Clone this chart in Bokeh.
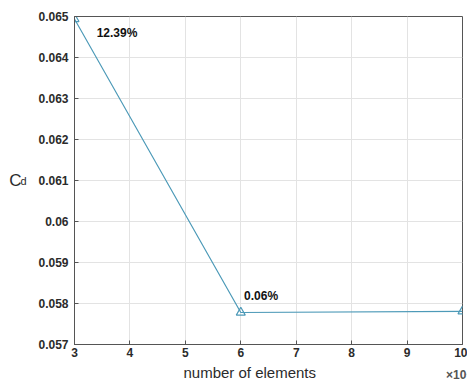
from bokeh.plotting import figure
from bokeh.models import FixedTicker, LinearAxis, Range1d
from bokeh.embed import file_html
from bokeh.resources import INLINE

# Mesh convergence study: drag coefficient vs. mesh size
elements = [30000, 60000, 100000]
cd_values = [0.06494, 0.05778, 0.05781]
change_labels = ["12.39%", "0.06%"]

x_ticks = [30000, 40000, 50000, 60000, 70000, 80000, 90000, 100000]
x_tick_labels = ["3", "4", "5", "6", "7", "8", "9", "10"]
y_ticks = [0.057, 0.058, 0.059, 0.060, 0.061, 0.062, 0.063, 0.064, 0.065]
y_tick_labels = ["0.057", "0.058", "0.059", "0.06", "0.061", "0.062", "0.063", "0.064", "0.065"]

line_color = "#4d9ab8"
text_color = "#2b2b2b"
font = "Liberation Sans"
NBSP = "\u00a0"


def set_opt(obj, **props):
    # properties that only newer Bokeh releases know are skipped quietly
    for k, v in props.items():
        try:
            setattr(obj, k, v)
        except (AttributeError, ValueError):
            pass


p = figure(width=467, height=385, output_backend="svg", toolbar_location=None,
           x_range=Range1d(30000, 100000), y_range=Range1d(0.057, 0.065),
           min_border_left=74, min_border_right=5, min_border_top=16, min_border_bottom=41)

p.line(elements, cd_values, line_color=line_color, line_width=1.2)
p.scatter(elements, cd_values, marker="triangle", size=9, fill_color=None,
          line_color=line_color, line_width=1.2)

# main axes
for ax in (p.xaxis[0], p.yaxis[0]):
    ax.major_tick_in = 4
    ax.major_tick_out = 0
    ax.minor_tick_line_color = None
    ax.axis_line_color = "#555555"
    ax.major_tick_line_color = "#555555"
    ax.major_label_text_font = font
    ax.major_label_text_font_style = "bold"
    ax.major_label_text_font_size = "12px"
    ax.major_label_text_color = text_color

p.xaxis.ticker = FixedTicker(ticks=x_ticks)
p.xaxis.major_label_overrides = dict(zip(x_ticks, x_tick_labels))
p.xaxis.major_label_standoff = 3
p.xaxis.axis_label = "number of elements" + NBSP * 9
p.xaxis.axis_label_text_font = font
p.xaxis.axis_label_text_font_style = "normal"
p.xaxis.axis_label_text_font_size = "15px"
p.xaxis.axis_label_text_color = text_color
p.xaxis.axis_label_standoff = 4

p.yaxis.ticker = FixedTicker(ticks=y_ticks)
p.yaxis.major_label_overrides = dict(zip(y_ticks, y_tick_labels))
p.yaxis.major_label_standoff = 6


def label_axis(text, size, standoff, style="normal", color=text_color):
    # an axis with no ticks or line, used only to carry a title
    ax = LinearAxis(ticker=FixedTicker(ticks=[]), axis_line_color=None,
                    major_tick_line_color=None, minor_tick_line_color=None,
                    major_tick_in=0, major_tick_out=0, minor_tick_in=0, minor_tick_out=0,
                    major_label_standoff=0, axis_label=text, axis_label_standoff=standoff,
                    axis_label_text_font=font, axis_label_text_font_size=size,
                    axis_label_text_font_style=style, axis_label_text_color=color)
    return ax


# y title C_d, written horizontally: subscript "d" next to the frame, "C" outside it
ax_d = label_axis("d", "11px", 9)
ax_c = label_axis("C", "17px", -4)
for ax in (ax_d, ax_c):
    set_opt(ax, axis_label_orientation="horizontal")
p.add_layout(ax_d, "left")
p.add_layout(ax_c, "left")

# x10^4 scale factor at the right end of the x axis
ax_exp = label_axis("\u00d710\u2074" + NBSP * 2, "12px", -16, "bold", "#555555")
set_opt(ax_exp, axis_label_align="end")
p.add_layout(ax_exp, "below")

p.grid.grid_line_color = "#e3e3e3"
p.grid.grid_line_width = 1
p.outline_line_color = "#555555"
p.outline_line_width = 1
p.background_fill_color = "white"
p.border_fill_color = "white"

# relative change annotations
p.text(x=[elements[0] + 4000, elements[1] + 600], y=[cd_values[0] - 0.00035, cd_values[1] + 0.0004],
       text=change_labels, text_font_size="12px", text_font_style="bold",
       text_color="#111111", text_align="left", text_baseline="middle",
       text_font={"value": font})

open("out.html", "w").write(file_html(p, INLINE))
